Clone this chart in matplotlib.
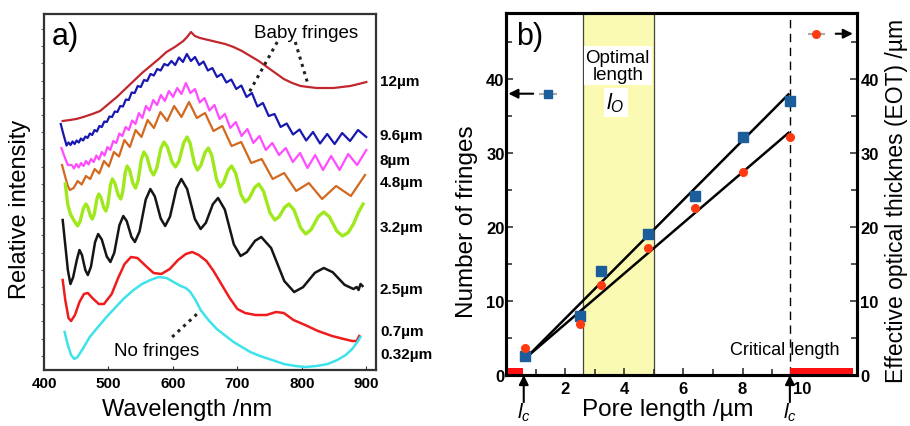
import numpy as np
import matplotlib
matplotlib.use('Agg')
import matplotlib.pyplot as plt

plt.rcParams['font.family'] = ['Liberation Sans', 'DejaVu Sans']
plt.rcParams['mathtext.fontset'] = 'custom'
plt.rcParams['mathtext.rm'] = 'Liberation Sans'
plt.rcParams['mathtext.it'] = 'Liberation Sans:italic'

# ---------------- panel a: reflectance spectra (arbitrary intensity units) ----------------
wl_12 = [429, 440, 450, 461, 475, 487, 500, 513, 526, 539, 552, 565, 578, 590, 603, 616, 622, 628, 634, 642,
         655, 668, 681, 694, 707, 720, 733, 746, 759, 772, 785, 798, 810, 823, 836, 849, 862, 875, 888, 900]
int_12 = [249, 250, 251, 253, 256, 259, 266, 273, 281, 289, 297, 304, 311, 318, 323, 329, 333, 338, 334, 332,
          330, 328, 326, 323, 319, 314, 309, 303, 297, 291, 287, 284, 283, 282, 282, 282, 283, 284, 286, 288]

wl_96 = [426, 430, 435.0, 438.0, 441.2, 444.3, 447.5, 450.7, 454.0, 457.3, 460.7, 464.2, 467.6, 471.2, 474.8,
         478.4, 482.1, 485.9, 489.7, 493.6, 497.5, 501.5, 505.6, 509.7, 513.9, 518.2, 522.5, 527.0, 531.5, 536.0,
         540.7, 545.4, 550.2, 555.1, 560.1, 565.2, 570.4, 575.6, 581.0, 586.5, 592.1, 597.7, 603.5, 609.4, 615.5,
         621.6, 627.9, 634.2, 640.8, 647.4, 654.2, 661.2, 668.3, 675.5, 682.9, 690.5, 698.2, 706.1, 714.2, 722.5,
         731.0, 739.6, 748.6, 757.6, 767.0, 776.5, 786.3, 796.4, 806.7, 817.3, 828.2, 839.3, 850.8, 862.5, 874.7,
         887.1, 899.9]
int_96 = [246, 236, 224.5, 227.5, 225, 228.5, 226, 229.5, 227.5, 231.5, 229.5, 233.5, 232, 236.5, 235, 240, 238.5,
          244, 243, 248.5, 248, 253.5, 253, 258.5, 258, 264, 263.5, 270.5, 270, 277.5, 277, 284, 283, 290, 289, 296,
          294.5, 301, 299.5, 306, 304.5, 309, 305, 312.5, 308, 316, 309, 313, 305, 308.5, 299.5, 302, 293, 296,
          287.5, 290.5, 281, 284.5, 273, 277, 263.5, 267, 254, 256, 243, 246.5, 235.5, 240.5, 229.5, 238, 226.5,
          236, 226, 237, 229, 240, 233]

wl_8 = [427, 432, 437, 443.0, 446.5, 450.2, 453.8, 457.5, 461.3, 465.2, 469.1, 473.0, 477.1, 481.2, 485.4, 489.6,
        494.0, 498.4, 502.8, 507.4, 512.1, 516.8, 521.6, 526.6, 531.6, 536.7, 541.9, 547.2, 552.6, 558.1, 563.8,
        569.5, 575.4, 581.4, 587.5, 593.8, 600.1, 606.6, 613.3, 620.1, 627.1, 634.2, 641.5, 649.0, 656.6, 664.4,
        672.4, 680.6, 689.0, 697.6, 706.4, 715.5, 724.8, 734.3, 744.1, 754.1, 764.5, 775.1, 786.0, 797.2, 808.7,
        820.6, 832.8, 845.5, 858.5, 871.9, 885.7, 900.0]
int_8 = [222, 213, 205, 205, 201.5, 206, 202.5, 207, 204, 209, 205.5, 211, 208, 214.5, 210.5, 218, 214.5, 223, 220,
         229, 227, 236.5, 234, 243, 240, 249.5, 246, 257, 252, 264, 259.5, 270, 265, 275, 269, 279, 273, 282, 276,
         287, 277, 281, 267.5, 272, 259.5, 265, 251, 256, 242, 248, 234, 241, 227, 234, 220, 227, 215, 222, 208,
         217, 202, 215, 200, 214, 200, 216, 205, 220]

wl_48 = [428, 433, 437, 440.0, 446.0, 452.2, 458.5, 465.0, 471.7, 478.6, 485.7, 493.1, 500.6, 508.4, 516.4, 524.7,
         533.2, 542.1, 551.2, 560.7, 570.5, 580.6, 591.0, 601.9, 613.2, 624.9, 637.1, 649.8, 662.9, 676.6, 690.9,
         705.9, 721.4, 737.7, 754.7, 772.5, 791.2, 810.8, 831.4, 853.1, 876.0, 898.0]
int_48 = [205, 193, 184, 180, 182, 189, 185.5, 194, 191, 201, 196.5, 209, 203.5, 218, 213.5, 230, 223, 240, 233,
          250, 242, 258, 249, 264, 253, 268, 252, 257, 239, 244, 224, 228, 207, 211, 191, 197, 179, 187, 171, 184,
          174, 195]

wl_32 = [433, 437, 441, 446, 452, 455.9, 461.1, 465, 468, 472, 475, 478, 482, 485, 488.3, 492.7, 496, 499, 503,
         506, 509.9, 515.1, 519, 522, 526, 529, 532.9, 538.1, 542, 545.9, 551.1, 555, 559.5, 565.5, 570, 574.8,
         581.2, 586, 591.4, 598.6, 604, 609.4, 616.6, 622, 626.8, 633.2, 638, 643.1, 649.9, 655, 660.4, 667.6, 673,
         678.4, 685.6, 691, 697.3, 705.7, 712, 718.3, 726.7, 733, 740.5, 750.5, 758, 764.6, 773.4, 780, 787.8,
         798.2, 806, 814.4, 825.6, 834, 842.7, 854.3, 863, 872, 880, 888, 895]
int_32 = [186, 165, 156, 150, 144, 148.4, 161.6, 166, 163, 154, 151, 156, 171, 176, 172.6, 162.4, 159, 165.4, 184.6,
          191, 187, 175, 171, 177.6, 197.4, 204, 199.6, 186.4, 182, 189.2, 210.8, 218, 213.4, 199.6, 195, 201.6,
          221.4, 228, 223, 208, 203, 209, 227, 233, 226.4, 206.6, 200, 204.4, 217.6, 222, 214.2, 190.8, 183, 187.2,
          199.8, 204, 196.8, 175.2, 168, 171.6, 182.4, 186, 178.8, 157.2, 150, 153.2, 162.8, 166, 160, 142, 136,
          140.4, 153.6, 158, 153.2, 138.8, 134, 137.5, 146, 158, 166]

wl_25 = [429, 433, 437, 441, 445.2, 450.8, 455, 458.9, 464.1, 468, 472.8, 479.2, 484, 489.7, 497.3, 503, 509, 517,
         523, 528.4, 535.6, 541, 548.2, 557.8, 565, 571.9, 581.1, 588, 595.5, 605.5, 613, 622, 634, 643, 651.1,
         661.9, 670, 680.5, 694.5, 705, 714.6, 727.4, 737, 752.3, 772.7, 788, 801.8, 820.2, 834, 847.8, 866.2, 880,
         885, 888, 891, 894]
int_25 = [150, 125, 100, 86, 92.8, 109.8, 120, 115, 100, 95, 103.2, 127.8, 136, 130.4, 113.6, 108, 117.2, 144.8, 154,
          148.8, 133.2, 128, 138.6, 170.4, 181, 173.6, 151.4, 144, 153.4, 181.6, 191, 181, 151, 141, 147.2, 165.8,
          172, 160.4, 125.6, 114, 117.8, 129.2, 133, 122, 89, 78, 82.8, 97.2, 102, 97.8, 85.2, 81, 83, 80, 86, 84]

wl_07 = [429, 433, 438, 442, 448, 455, 462, 468, 475, 485, 493, 505, 515, 525, 535, 545, 558, 570, 582, 595, 608,
         620, 630, 640, 652, 663, 675, 688, 700, 712, 728, 745, 760, 772, 787, 805, 825, 847, 865, 878, 885, 889]
int_07 = [90, 70, 52, 49, 55, 68, 76, 77, 72, 66, 66, 76, 92, 106, 113, 112, 104, 97, 96, 101, 110, 116, 118, 115,
          109, 99, 86, 72, 61, 57, 55, 55, 58, 57, 50, 45, 39, 34, 31, 29, 29, 34]

wl_032 = [432, 437, 442, 447, 452, 460, 471, 485, 497, 510, 523, 539, 552, 565, 578, 590, 601, 612, 620, 627, 635,
          643, 655, 668, 682, 694, 707, 720, 735, 754, 772, 790, 805, 823, 840, 855, 868, 878, 886, 891]
int_032 = [38, 25, 15, 11, 13, 21, 33, 44, 53, 62, 71, 80, 86, 90, 93, 92, 88, 84, 82, 78, 70, 60, 50, 41, 34, 28,
           23, 18, 14, 10, 6, 4, 3, 4, 6, 10, 15, 21, 28, 33]

spec_labels = ['12µm', '9.6µm', '8µm', '4.8µm', '3.2µm', '2.5µm', '0.7µm', '0.32µm']

# ---------------- panel b: fringes / EOT vs pore length ----------------
pore_len = [0.65, 2.5, 3.2, 4.8, 6.4, 8.0, 9.6]
n_fringes = [2.6, 8.0, 14.0, 19.0, 24.2, 32.2, 37.0]
eot = [3.6, 6.9, 12.2, 17.2, 22.6, 27.4, 32.2]
fit_x = [0.75, 9.55]
fit_fringes = [2.6, 37.9]
fit_eot = [2.6, 32.7]
optimal_range = [2.6, 5.0]
critical_len = [0.6, 9.6]
no_fringe_ranges = [(0.0, 0.58), (9.62, 11.75)]

W, H = 910, 427


def fx(x):
    return x / W


def fy(y):
    return 1 - y / H


fig = plt.figure(figsize=(9.1, 4.27), dpi=100)

# ===== panel a =====
ax1 = fig.add_axes([fx(44), fy(371), (376 - 44) / W, (371 - 15) / H])
series = [(wl_12, int_12, '#c1272d', 1.6), (wl_96, int_96, '#1818b0', 1.6), (wl_8, int_8, '#ff4cff', 1.6),
          (wl_48, int_48, '#d2691e', 1.6), (wl_32, int_32, '#9fe81c', 2.4), (wl_25, int_25, '#151515', 1.8),
          (wl_07, int_07, '#ee1c1c', 1.8), (wl_032, int_032, '#3ee2ea', 1.8)]
for x, y, c, lw in series:
    ax1.plot(x, y, color=c, lw=lw, solid_joinstyle='round')
ax1.set_xlim(400, 915)
ax1.set_ylim(0, 356)
ax1.set_xticks(range(400, 901, 100))
ax1.tick_params(axis='x', direction='in', length=3, labelsize=11, pad=4, color='#333')
for lab in ax1.get_xticklabels():
    lab.set_fontweight('bold')
ax1.set_yticks(np.arange(14.3, 350, 17.2))
ax1.tick_params(axis='y', direction='out', length=2.5, labelleft=False, color='#666')
for s in ax1.spines.values():
    s.set_linewidth(1.6)
    s.set_color('#333')

# dotted pointers
ax1.plot([761.8, 716.8], [328, 276], ls=(0, (1, 1.5)), lw=2.2, color='#222')
ax1.plot([789.8, 808.4], [328, 288], ls=(0, (1, 1.5)), lw=2.2, color='#222')
ax1.plot([598.8, 642.3], [33, 59], ls=(0, (1, 1.5)), lw=2.2, color='#222')
fig.text(fx(305.8), fy(33), 'Baby fringes', fontsize=13.5, ha='center', va='center')
fig.text(fx(156.7), fy(352), 'No fringes', fontsize=13.5, ha='center', va='center')
fig.text(fx(52), fy(37), 'a)', fontsize=22, ha='left', va='center')

for lab, ypx in zip(spec_labels, [82, 136, 161, 183, 228, 290, 332, 355]):
    fig.text(fx(380), fy(ypx), lab, fontsize=11, fontweight='bold', ha='left', va='center')

fig.text(fx(186.7), fy(410), 'Wavelength /nm', fontsize=17, ha='center', va='center')
fig.text(fx(20), fy(209), 'Relative intensity', fontsize=17, ha='center', va='center', rotation=90)

# ===== panel b =====
ax2 = fig.add_axes([fx(506), fy(376), (857 - 506) / W, (376 - 14) / H])
ax2.set_xlim(0, 11.87)
ax2.set_ylim(0, 48.9)
ax2.axvspan(optimal_range[0], optimal_range[1], color='#fafab2', zorder=0)
for xv in optimal_range:
    ax2.axvline(xv, color='#444', lw=0.9, zorder=1)
ax2.axvline(critical_len[1], color='k', lw=1, ls=(0, (6, 4)), zorder=1)
for x0, x1 in no_fringe_ranges:
    ax2.fill_between([x0, x1], 0, 0.95, color='#ff1010', lw=0, zorder=3)

ax2.plot(fit_x, fit_fringes, color='k', lw=1.8, zorder=4)
ax2.plot(fit_x, fit_eot, color='k', lw=1.8, zorder=4)
ax2.plot(pore_len, n_fringes, 's', color='#1b5e9b', ms=6.5, zorder=5)
ax2.plot(pore_len, eot, 'o', color='#ff3a12', ms=5.5, zorder=5)

# series keys with arrows toward their axis
ax2.errorbar([1.42], [38], xerr=[0.3], fmt='s', color='#1b5e9b', ecolor='#aaa', elinewidth=1.5, ms=6, zorder=5)
ax2.errorbar([10.5], [46.1], xerr=[0.3], fmt='o', color='#ff3a12', ecolor='#aaa', elinewidth=1.5, ms=5.5, zorder=5)
arrow = dict(arrowstyle='-|>', color='k', lw=1.5, mutation_scale=14, shrinkA=0, shrinkB=0)
ax2.annotate('', xy=(0.08, 38), xytext=(0.92, 38), arrowprops=arrow)
ax2.annotate('', xy=(11.73, 46.1), xytext=(11.15, 46.1), arrowprops=arrow, annotation_clip=False)
for xc in critical_len:
    ax2.annotate('', xy=(xc, 0), xycoords=('data', 'axes fraction'), xytext=(xc, -0.075),
                 textcoords=('data', 'axes fraction'), arrowprops=arrow, annotation_clip=False)
    ax2.text(xc, -0.103, '$l_c$', transform=ax2.get_xaxis_transform(), fontsize=15, ha='center', va='center')

ax2.text(3.78, 41.8, 'Optimal\nlength', fontsize=13.5, ha='center', va='center', linespacing=1.0,
         bbox=dict(facecolor='white', edgecolor='none', pad=1.5), zorder=6)
ax2.text(3.71, 36.8, '$l_O$', fontsize=16, ha='center', va='center',
         bbox=dict(facecolor='white', edgecolor='none', pad=2), zorder=6)
ax2.text(9.43, 3.5, 'Critical length', fontsize=13, ha='center', va='center', zorder=6)
ax2.text(0.028, 0.936, 'b)', transform=ax2.transAxes, fontsize=22, ha='left', va='center')

ax2.set_xticks([2, 4, 6, 8, 10])
ax2.set_xticks(range(1, 12), minor=True)
ax2.set_yticks([0, 10, 20, 30, 40])
ax2.set_yticks([5, 15, 25, 35, 45], minor=True)
ax2.tick_params(which='both', direction='in', color='#333')
ax2.tick_params(which='major', length=5, width=1.2, labelsize=12)
ax2.tick_params(which='minor', length=4, width=1.2)
ax2.tick_params(axis='y', pad=1)
ax2.tick_params(axis='x', pad=4)
for lab in ax2.get_xticklabels() + ax2.get_yticklabels():
    lab.set_fontweight('bold')

ax2r = ax2.twinx()
ax2r.set_ylim(0, 48.9)
ax2r.set_yticks([0, 10, 20, 30, 40])
ax2r.set_yticks([5, 15, 25, 35, 45], minor=True)
ax2r.tick_params(which='both', direction='in', color='#333', pad=2.5)
ax2r.tick_params(which='major', length=5, width=1.2, labelsize=12)
ax2r.tick_params(which='minor', length=4, width=1.2)
for lab in ax2r.get_yticklabels():
    lab.set_fontweight('bold')
for a in (ax2, ax2r):
    for s in a.spines.values():
        s.set_linewidth(2.2)

fig.text(fx(668), fy(410), 'Pore length /µm', fontsize=17.5, ha='center', va='center')
fig.text(fx(466.7), fy(221.7), 'Number of fringes', fontsize=17.5, ha='center', va='center', rotation=90)
fig.text(fx(897), fy(201), 'Effective optical thicknes (EOT) /µm', fontsize=16.5, ha='center', va='center',
         rotation=90)

plt.savefig('out.png', dpi=100)
